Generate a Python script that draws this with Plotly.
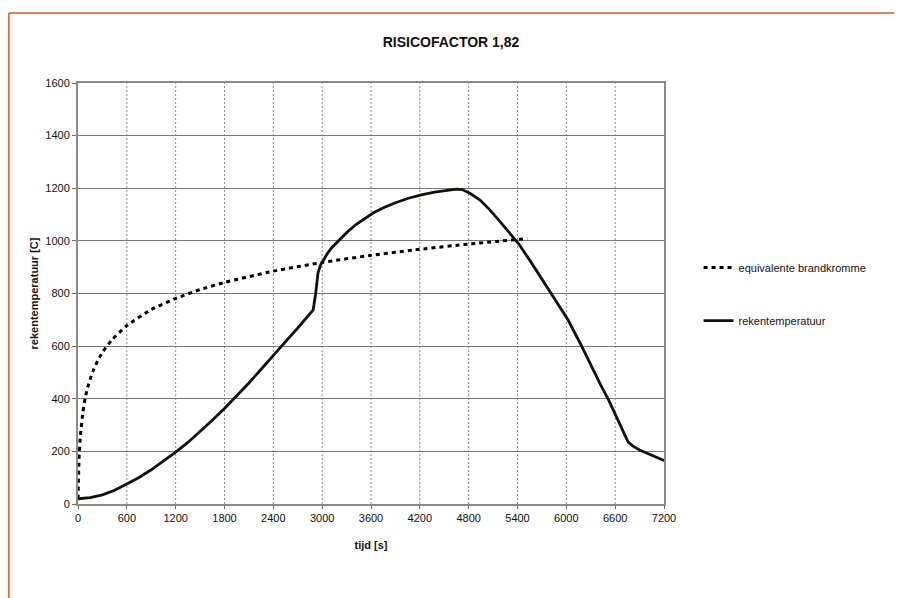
import plotly.graph_objects as go

# equivalente brandkromme (dotted)
t_eq = [0, 15, 30, 60, 90, 120, 180, 240, 300, 420, 600, 900, 1200, 1500, 1800, 2400, 3000, 3600, 4200, 4800, 5520]
T_eq = [20, 190, 261, 349, 405, 445, 502, 543, 576, 625, 678, 739, 781, 815, 842, 885, 918, 945, 968, 988, 1009]

# rekentemperatuur (solid)
t_rt = [0, 150, 300, 450, 600, 750, 900, 1050, 1200, 1350, 1500, 1650, 1800, 1950, 2100, 2250, 2400, 2550, 2700, 2890,
        2920, 2950, 2980, 3010, 3060, 3120, 3220, 3320, 3420, 3530, 3630, 3760, 3900, 4060, 4220, 4380, 4520, 4650, 4720,
        4820, 4940, 5060, 5180, 5300, 5410, 5560, 5700, 5860, 6020, 6170, 6300, 6420, 6520, 6640, 6720, 6760, 6820, 6900, 7050, 7200]
T_rt = [20, 24, 35, 52, 76, 101, 130, 163, 197, 234, 275, 318, 363, 410, 460, 512, 566, 617, 669, 738,
        800, 880, 908, 925, 950, 975, 1008, 1037, 1063, 1087, 1107, 1127, 1145, 1162, 1175, 1185, 1192, 1197, 1195,
        1180, 1155, 1118, 1075, 1033, 991, 922, 853, 778, 700, 611, 528, 454, 395, 316, 260, 235, 220, 205, 185, 165]

x_ticks = list(range(0, 7201, 600))
y_ticks = list(range(0, 1601, 200))

FONT = "Liberation Sans, Arial, sans-serif"

fig = go.Figure()
fig.add_trace(go.Scatter(
    x=t_eq, y=T_eq, mode="lines", name="equivalente brandkromme",
    line=dict(color="black", width=3, dash="4px,4px", shape="spline", smoothing=0.5),
    legendgroup="a"))
fig.add_trace(go.Scatter(
    x=t_rt, y=T_rt, mode="lines", name="rekentemperatuur",
    line=dict(color="#15100c", width=2.8),
    legendgroup="b"))

# vertical dashed gridlines
for xv in x_ticks[1:-1]:
    fig.add_shape(type="line", xref="x", yref="y", x0=xv, x1=xv, y0=0, y1=1600,
                  line=dict(color="#8a8a8a", width=1, dash="2px,2px"), layer="below")

# orange-red scan border
fig.add_shape(type="line", xref="paper", yref="paper", x0=-0.118, x1=1.6, y0=1.1663, y1=1.1663,
              line=dict(color="#e2552e", width=1.5))
fig.add_shape(type="line", xref="paper", yref="paper", x0=-0.118, x1=-0.118, y0=1.1663, y1=-0.3,
              line=dict(color="#e2552e", width=1.5))

fig.update_layout(
    width=902, height=598,
    margin=dict(l=70, r=246, t=75, b=102),
    paper_bgcolor="white", plot_bgcolor="white",
    font=dict(family=FONT, size=11, color="#111"),
    title=dict(text="<b>RISICOFACTOR 1,82</b>", x=(451 - 8) / 902, xref="container", xanchor="center",
               y=1 - 34 / 598, yanchor="middle", yref="container",
               font=dict(family=FONT, size=14, color="#111")),
    showlegend=True,
    legend=dict(x=1.059, y=0.596, xanchor="left", yanchor="top",
                font=dict(family=FONT, size=11, color="#111"),
                tracegroupgap=34, bgcolor="rgba(0,0,0,0)"),
)
fig.update_xaxes(
    range=[0, 7200], tickvals=x_ticks, ticktext=[str(v) for v in x_ticks],
    showgrid=False, zeroline=False,
    showline=True, linecolor="#8a8a8a", linewidth=2, mirror=True,
    ticks="outside", ticklen=3, tickcolor="#666",
    title=dict(text="<b>tijd [s]</b>", font=dict(family=FONT, size=11, color="#111"), standoff=18),
)
fig.update_yaxes(
    range=[0, 1600], tickvals=y_ticks, ticktext=[str(v) for v in y_ticks],
    showgrid=True, gridcolor="#7a7a7a", gridwidth=1, zeroline=False,
    showline=True, linecolor="#8a8a8a", linewidth=2, mirror=True,
    ticks="outside", ticklen=4, tickcolor="#666",
    title=dict(text="<b>rekentemperatuur [C]</b>", font=dict(family=FONT, size=11, color="#111"), standoff=4),
)

fig.write_html("out.html")
